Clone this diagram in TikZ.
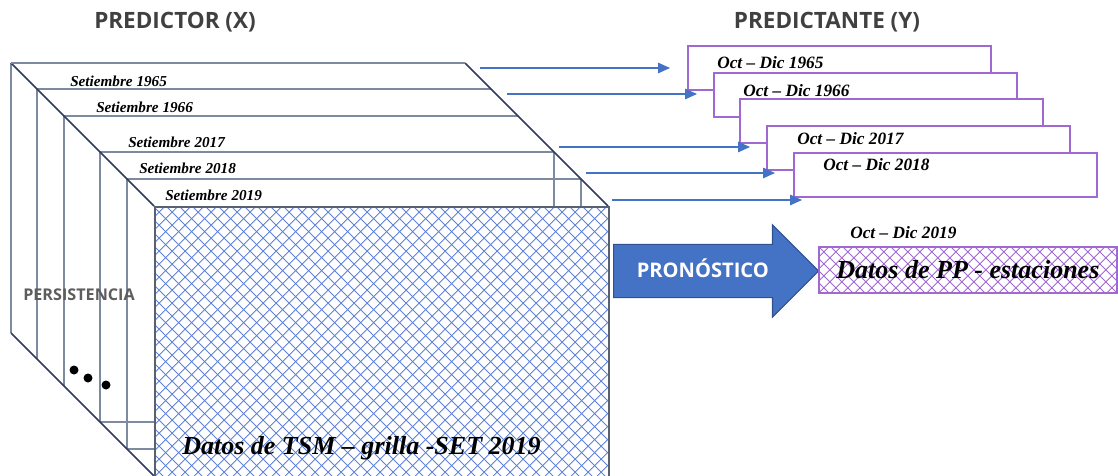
\documentclass[tikz,border=0pt]{standalone}
\usepackage{fontspec}
\setmainfont{Liberation Serif}
\newfontfamily\titlefont{Open Sans}
\usetikzlibrary{arrows.meta,positioning,shapes.arrows}
\definecolor{stackline}{RGB}{125,138,160}
\definecolor{stackdark}{RGB}{45,60,95}
\definecolor{hatchblue}{RGB}{95,130,215}
\definecolor{arrowblue}{RGB}{68,114,196}
\definecolor{arrowedge}{RGB}{47,82,143}
\definecolor{boxpurple}{RGB}{160,105,210}
\definecolor{titlegray}{RGB}{64,64,64}

\begin{document}
\begin{tikzpicture}[x=0.025cm, y=-0.025cm,
  layer/.style={draw=stackline, line width=1.3pt},
  diag/.style={draw=stackdark, line width=1.1pt},
  yr/.style={font=\fontsize{10.8}{12}\selectfont\bfseries\itshape, anchor=west, inner sep=0pt},
  per/.style={font=\fontsize{12.3}{14}\selectfont\bfseries\itshape, anchor=west, inner sep=0pt},
  big/.style={font=\fontsize{18.5}{20}\selectfont\bfseries\itshape, inner sep=0pt},
  title/.style={font=\titlefont\fontsize{16}{19}\selectfont\bfseries, text=titlegray, inner sep=0pt},
  pbox/.style={draw=boxpurple, line width=1.2pt, fill=white, minimum width=7.575cm,
               minimum height=1.1cm, anchor=north west, inner sep=0pt},
  thin/.style={draw=arrowblue, line width=0.8pt, -{Triangle[length=8.5pt,width=7.5pt]}},
  face/.style={draw=stackline!70!black, line width=1.6pt, anchor=north west, inner sep=0pt,
               minimum width=11.35cm, minimum height=6.75cm,
               path picture={
                 \foreach \k in {-300,-287,...,470}{
                   \draw[hatchblue, line width=0.6pt] ([shift={(\k,0)}]path picture bounding box.north west) -- ++(300,300);
                   \draw[hatchblue, line width=0.6pt] ([shift={(\k,0)}]path picture bounding box.south west) -- ++(300,-300);
                 }}},
  ppbox/.style={draw=boxpurple, line width=1.2pt, anchor=north west, inner sep=0pt,
                minimum width=7.45cm, minimum height=1.15cm,
                font=\fontsize{18.5}{20}\selectfont\bfseries\itshape,
                path picture={
                  \foreach \k in {-60,-48,...,310}{
                    \draw[boxpurple, line width=0.6pt] ([shift={(\k,0)}]path picture bounding box.north west) -- ++(60,60);
                    \draw[boxpurple, line width=0.6pt] ([shift={(\k,0)}]path picture bounding box.south west) -- ++(60,-60);
                  }}},
  bigarrow/.style={single arrow, fill=arrowblue, draw=arrowedge, line width=0.8pt,
                   minimum height=5.125cm, single arrow head extend=0.49cm,
                   inner xsep=2pt, inner ysep=0pt, text height=0.8cm, text depth=0.5cm,
                   text=white, font=\titlefont\fontsize{14.3}{16}\selectfont\bfseries}
]
\useasboundingbox (0,0) rectangle (1118,475);

% titles
\node[title] (pred) at (175,22) {PREDICTOR (X)};
\node[title] (pdnt) at (827,22) {PREDICTANTE (Y)};

% stack of layers
\foreach \d in {0,26,53,89,116}{
  \draw[layer] (11+\d,63+\d) -- (465+\d,63+\d);
  \draw[layer] (11+\d,63+\d) -- (11+\d,333+\d);
}
\foreach \d in {89,116}{
  \draw[layer] (465+\d,63+\d) -- (465+\d,206);
  \draw[layer] (11+\d,333+\d) -- (154,333+\d);
}
\draw[diag] (11,63) -- (154,206);
\draw[diag] (465,63) -- (608,206);
\draw[diag] (11,333) -- (154,476);
\draw[layer] (11,63) -- (465,63);

\node[face] (tsm) at (154,206) {};
\node[big, anchor=west] (tsmlbl) at (182,448) {Datos de TSM – grilla -SET 2019};

\node[yr] (s65) at (70,81) {Setiembre 1965};
\node[yr] (s66) at (96,107) {Setiembre 1966};
\node[yr] (s17) at (128,142) {Setiembre 2017};
\node[yr] (s18) at (139,168) {Setiembre 2018};
\node[yr] (s19) at (165,195) {Setiembre 2019};

\node[title, font=\titlefont\fontsize{11.5}{13}\selectfont\bfseries, text=titlegray!85] (pers) at (79,295) {PERSISTENCIA};
\fill (74,370) circle (4.5);
\fill (88,378) circle (4.5);
\fill (106,385) circle (4.5);

% predictand boxes
\node[pbox] (b1) at (687,45) {};
\node[pbox] (b2) at (713,72) {};
\node[pbox] (b3) at (739,98) {};
\node[pbox] (b4) at (766,125) {};
\node[pbox] (b5) at (793,152) {};
\node[per] (o65) at ([shift={(30,18)}]b1.north west) {Oct – Dic 1965};
\node[per] (o66) at ([shift={(30,19)}]b2.north west) {Oct – Dic 1966};
\node[per] (o17) at ([shift={(31,14)}]b4.north west) {Oct – Dic 2017};
\node[per] (o18) at ([shift={(30,13)}]b5.north west) {Oct – Dic 2018};

% links year to year
\coordinate (a1) at (480,68);  \coordinate (t1) at (670,68);
\coordinate (a2) at (507,94);  \coordinate (t2) at (697,94);
\coordinate (a3) at (559,147); \coordinate (t3) at (750,147);
\coordinate (a4) at (586,173); \coordinate (t4) at (775,173);
\coordinate (a5) at (612,200); \coordinate (t5) at (802,200);
\draw[thin] (a1) -- (t1);
\draw[thin] (a2) -- (t2);
\draw[thin] (a3) -- (t3);
\draw[thin] (a4) -- (t4);
\draw[thin] (a5) -- (t5);

% forecast
\node[bigarrow, anchor=tail] (fc) at (613,271) {PRONÓSTICO};
\node[ppbox] (pp) at (818,246) {Datos de PP - estaciones};
\node[per] (o19) at (850,233) {Oct – Dic 2019};
\end{tikzpicture}
\end{document}
